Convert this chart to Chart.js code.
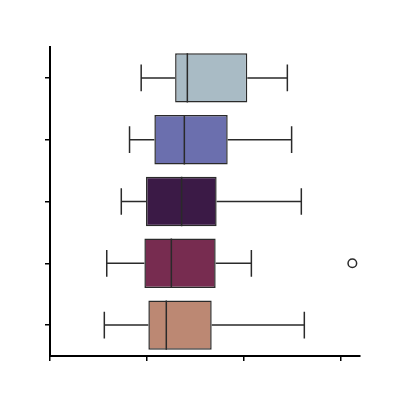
<!DOCTYPE html>
<html>
<head>
<meta charset="utf-8">
<script src="https://cdn.jsdelivr.net/npm/chart.js@4/dist/chart.umd.min.js"></script>
<style>
html,body{margin:0;padding:0;background:#fff;}
#wrap{width:400px;height:400px;}
</style>
</head>
<body>
<div id="wrap"><canvas id="c" width="400" height="400"></canvas></div>
<script>
const categories = ['A', 'B', 'C', 'D', 'E'];
const whiskerLow = [0.94, 0.82, 0.735, 0.585, 0.56];
const q1 = [1.29, 1.076, 0.99, 0.973, 1.014];
const median = [1.416, 1.385, 1.357, 1.251, 1.199];
const q3 = [2.034, 1.832, 1.718, 1.708, 1.667];
const whiskerHigh = [2.447, 2.491, 2.591, 2.076, 2.622];
const outliers = [[], [], [], [3.117], []];
const colors = ['#a9bbc5', '#6b6fae', '#3b1a46', '#772c50', '#bc8873'];
const xTicks = [0, 1, 2, 3];

const edge = '#2a2a2a';

const boxPlugin = {
  id: 'boxExtras',
  afterDatasetsDraw(chart) {
    const ctx = chart.ctx;
    const xs = chart.scales.x, ys = chart.scales.y;
    const meta = chart.getDatasetMeta(0);
    ctx.save();
    ctx.strokeStyle = edge;
    ctx.lineWidth = 1.5;
    categories.forEach((c, i) => {
      const y = ys.getPixelForValue(i);
      const h = meta.data[i].height;
      const xl = xs.getPixelForValue(whiskerLow[i]);
      const x1 = xs.getPixelForValue(q1[i]);
      const xm = xs.getPixelForValue(median[i]);
      const x3 = xs.getPixelForValue(q3[i]);
      const xh = xs.getPixelForValue(whiskerHigh[i]);
      const cap = h * 0.27;
      ctx.beginPath();
      ctx.moveTo(xl, y); ctx.lineTo(x1, y);
      ctx.moveTo(x3, y); ctx.lineTo(xh, y);
      ctx.moveTo(xl, y - cap); ctx.lineTo(xl, y + cap);
      ctx.moveTo(xh, y - cap); ctx.lineTo(xh, y + cap);
      ctx.moveTo(xm, y - h / 2); ctx.lineTo(xm, y + h / 2);
      ctx.stroke();
      outliers[i].forEach(v => {
        ctx.beginPath();
        ctx.arc(xs.getPixelForValue(v), y, 4.3, 0, Math.PI * 2);
        ctx.fillStyle = '#ffffff';
        ctx.fill();
        ctx.stroke();
      });
    });
    ctx.restore();
  }
};

new Chart(document.getElementById('c'), {
  type: 'bar',
  data: {
    labels: categories,
    datasets: [{
      data: q1.map((v, i) => [v, q3[i]]),
      backgroundColor: colors,
      borderColor: edge,
      borderWidth: 1.5,
      borderSkipped: false,
      barPercentage: 0.8,
      categoryPercentage: 1.0
    }]
  },
  options: {
    indexAxis: 'y',
    responsive: false,
    animation: false,
    layout: { padding: { left: 45, right: 40, top: 47, bottom: 39 } },
    plugins: { legend: { display: false }, tooltip: { enabled: false } },
    scales: {
      x: {
        type: 'linear',
        min: 0,
        max: 3.196,
        afterBuildTicks(scale) { scale.ticks = xTicks.map(v => ({ value: v })); },
        ticks: { display: false, includeBounds: false },
        grid: { drawOnChartArea: false, drawTicks: true, tickLength: 5, color: '#000', lineWidth: 1.5 },
        border: { display: true, color: '#000', width: 2 }
      },
      y: {
        type: 'category',
        offset: true,
        ticks: { display: false },
        grid: { offset: false, drawOnChartArea: false, drawTicks: true, tickLength: 5, color: '#000', lineWidth: 1.5 },
        border: { display: true, color: '#000', width: 2 }
      }
    }
  },
  plugins: [boxPlugin]
});
</script>
</body>
</html>
